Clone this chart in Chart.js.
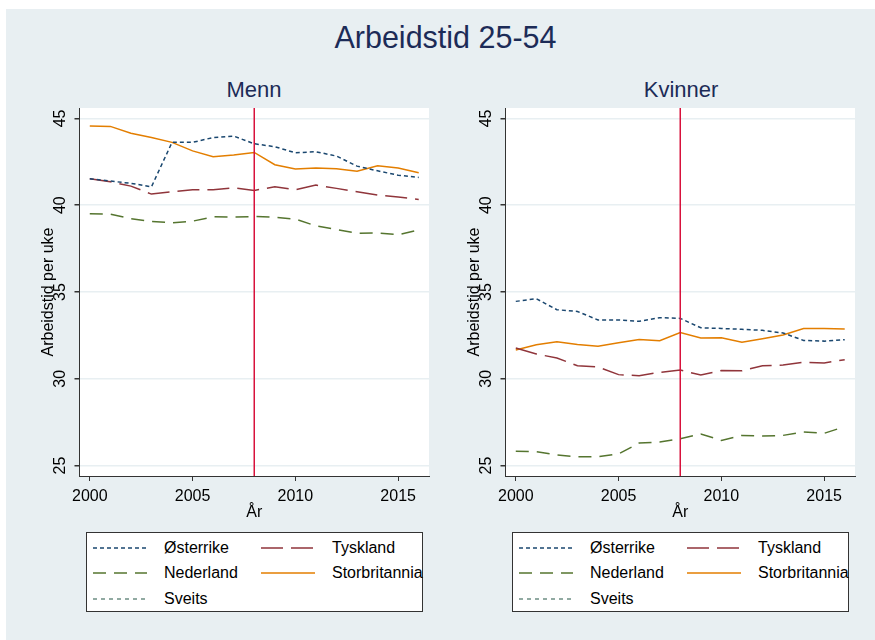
<!DOCTYPE html>
<html>
<head>
<meta charset="utf-8">
<script src="https://cdn.jsdelivr.net/npm/chart.js@4.4.0/dist/chart.umd.min.js"></script>
<style>
  body { margin: 0; background: #fff; font-family: "Liberation Sans", Arial, sans-serif; }
  #page { position: relative; width: 875px; height: 640px; overflow: hidden; }
  #bg { position: absolute; left: 6px; top: 9px; right: 0; bottom: 0; background: #e8eff2; }
  #title { position: absolute; left: 0; width: 891px; top: 20px; line-height: 34px; text-align: center; font-size: 30.5px; color: #1c2b57; }
  .sub { position: absolute; top: 77px; width: 350px; line-height: 26px; text-align: center; font-size: 22px; color: #1c2b57; }
  .panel { position: absolute; top: 100px; }
  .legend { position: absolute; top: 532px; width: 337px; height: 80px; background: #fff; border: 1px solid #333; box-sizing: border-box; }
  .item { position: absolute; height: 20px; }
  .item svg { position: absolute; left: 0; top: 0; }
  .item span { position: absolute; top: 0; line-height: 20px; font-size: 16px; color: #000; white-space: nowrap; }
</style>
</head>
<body>
<div id="page">
  <div id="bg"></div>
  <div id="title">Arbeidstid 25-54</div>
  <div class="sub" style="left:79px">Menn</div>
  <div class="sub" style="left:506px">Kvinner</div>
  <canvas id="menn" class="panel" width="420" height="425" style="left:20px"></canvas>
  <canvas id="kvinner" class="panel" width="420" height="425" style="left:446px"></canvas>
  <div id="legendMenn" class="legend" style="left:86px"></div>
  <div id="legendKvinner" class="legend" style="left:512px"></div>
</div>

<script>
// data
const years = [2000, 2001, 2002, 2003, 2004, 2005, 2006, 2007, 2008, 2009, 2010, 2011, 2012, 2013, 2014, 2015, 2016];
const xTicks = [2000, 2005, 2010, 2015];
const yTicks = [25, 30, 35, 40, 45];
const reformYear = 2008;

const seriesNames = ["Østerrike", "Tyskland", "Nederland", "Storbritannia", "Sveits"];

// Menn
const mennOsterrike = [41.52, 41.39, 41.26, 41.06, 43.62, 43.62, 43.9, 43.98, 43.54, 43.37, 43.02, 43.08, 42.83, 42.25, 41.98, 41.73, 41.6];
const mennTyskland = [41.52, 41.35, 41.1, 40.64, 40.77, 40.89, 40.89, 41.0, 40.85, 41.06, 40.89, 41.16, 40.97, 40.77, 40.58, 40.47, 40.33];
const mennNederland = [39.51, 39.49, 39.22, 39.07, 38.99, 39.08, 39.33, 39.31, 39.35, 39.31, 39.2, 38.81, 38.6, 38.39, 38.4, 38.3, 38.57];
const mennStorbritannia = [44.57, 44.54, 44.15, 43.9, 43.62, 43.13, 42.79, 42.89, 43.04, 42.33, 42.08, 42.15, 42.1, 41.96, 42.27, 42.14, 41.87];
const mennSveits = [];

// Kvinner
const kvinnerOsterrike = [34.46, 34.61, 33.98, 33.88, 33.39, 33.39, 33.31, 33.52, 33.48, 32.94, 32.9, 32.85, 32.79, 32.64, 32.21, 32.17, 32.25];
const kvinnerTyskland = [31.77, 31.43, 31.2, 30.75, 30.68, 30.24, 30.18, 30.37, 30.5, 30.22, 30.48, 30.46, 30.75, 30.79, 30.95, 30.91, 31.1];
const kvinnerNederland = [25.82, 25.8, 25.61, 25.51, 25.51, 25.67, 26.3, 26.36, 26.55, 26.82, 26.45, 26.74, 26.7, 26.74, 26.94, 26.86, 27.24];
const kvinnerStorbritannia = [31.66, 31.96, 32.14, 31.98, 31.87, 32.08, 32.27, 32.19, 32.67, 32.35, 32.37, 32.1, 32.31, 32.52, 32.9, 32.9, 32.87];
const kvinnerSveits = [];

// line styles, same order as seriesNames
const lineColors = ["#1a476f", "#90353b", "#55752f", "#e37e00", "#6e8e84"];
const lineDash = [[4, 3], [22, 8], [13, 8], [], [4, 4]];

const FONT = '"Liberation Sans", Arial, sans-serif';

// white plot region + red reference line
const plotBg = {
  id: "plotBg",
  beforeDraw(chart) {
    const a = chart.chartArea, ctx = chart.ctx;
    ctx.save();
    ctx.fillStyle = "#fff";
    ctx.fillRect(a.left, a.top, a.right - a.left, a.bottom - a.top);
    ctx.restore();
  }
};
const refLine = {
  id: "refLine",
  afterDatasetsDraw(chart) {
    const a = chart.chartArea, ctx = chart.ctx;
    const x = chart.scales.x.getPixelForValue(reformYear);
    ctx.save();
    ctx.strokeStyle = "#d8123c";
    ctx.lineWidth = 1.5;
    ctx.beginPath();
    ctx.moveTo(x, a.top);
    ctx.lineTo(x, a.bottom);
    ctx.stroke();
    ctx.restore();
  }
};

function makePanel(id, series) {
  const datasets = series.map((vals, i) => ({
    label: seriesNames[i],
    data: vals.map((v, k) => ({ x: years[k], y: v })),
    borderColor: lineColors[i],
    borderDash: lineDash[i],
    borderWidth: 1.5,
    pointRadius: 0,
    tension: 0,
    fill: false
  }));

  return new Chart(document.getElementById(id), {
    type: "line",
    data: { datasets: datasets },
    plugins: [plotBg, refLine],
    options: {
      responsive: false,
      animation: false,
      layout: { padding: { top: 8, right: 11, left: 0, bottom: 0 } },
      plugins: { legend: { display: false }, tooltip: { enabled: false } },
      scales: {
        x: {
          type: "linear",
          min: 1999.5,
          max: 2016.5,
          afterBuildTicks: s => { s.ticks = xTicks.map(v => ({ value: v })); },
          afterFit: s => { s.height = 49; s.paddingLeft = 0; s.paddingRight = 0; },
          ticks: { color: "#000", font: { size: 16, family: FONT }, padding: 6, maxRotation: 0, callback: v => String(v) },
          grid: { drawOnChartArea: false, tickLength: 5, tickColor: "#333" },
          border: { display: true, color: "#333", width: 1 },
          title: { display: true, text: "År", color: "#000", font: { size: 16, family: FONT }, padding: { top: 0, bottom: 3 } }
        },
        y: {
          min: 24.4,
          max: 45.6,
          afterBuildTicks: s => { s.ticks = yTicks.map(v => ({ value: v })); },
          afterFit: s => { s.width = 59.5; s.paddingTop = 0; s.paddingBottom = 0; },
          ticks: { color: "#000", font: { size: 16, family: FONT }, padding: 5, minRotation: 90, maxRotation: 90, crossAlign: "center" },
          grid: { color: "#e8eff2", lineWidth: 1.5, tickLength: 5, tickColor: "#333" },
          border: { display: true, color: "#333", width: 1 },
          title: { display: true, text: "Arbeidstid per uke", color: "#000", font: { size: 16, family: FONT }, padding: { top: 19, bottom: 0 } }
        }
      }
    }
  });
}

makePanel("menn", [mennOsterrike, mennTyskland, mennNederland, mennStorbritannia, mennSveits]);
makePanel("kvinner", [kvinnerOsterrike, kvinnerTyskland, kvinnerNederland, kvinnerStorbritannia, kvinnerSveits]);

// legend boxes under each panel
function buildLegend(id) {
  const box = document.getElementById(id);
  const rowTop = [5, 30, 56];
  seriesNames.forEach((name, i) => {
    const col = i % 2, row = Math.floor(i / 2);
    const item = document.createElement("div");
    item.className = "item";
    item.style.left = (col === 0 ? 5 : 173) + "px";
    item.style.top = rowTop[row] + "px";
    const dash = lineDash[i].length ? lineDash[i].join(",") : "none";
    item.innerHTML =
      '<svg width="56" height="20"><line x1="1" y1="10" x2="55" y2="10" stroke="' + lineColors[i] +
      '" stroke-width="1.5" stroke-dasharray="' + dash + '"/></svg>' +
      '<span style="left:72px">' + name + '</span>';
    box.appendChild(item);
  });
}
buildLegend("legendMenn");
buildLegend("legendKvinner");
</script>
</body>
</html>
